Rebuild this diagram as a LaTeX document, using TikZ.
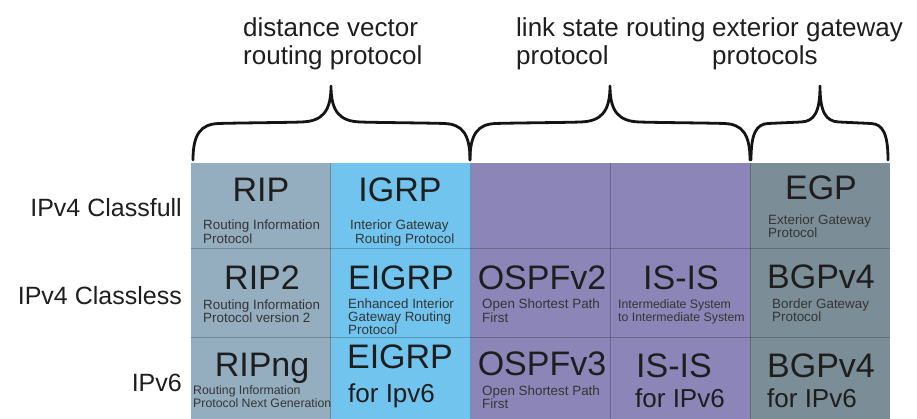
\documentclass[tikz,border=0pt]{standalone}
\usepackage{fontspec}
\setmainfont{Liberation Sans}

\definecolor{ripcol}{HTML}{94AEC0}
\definecolor{igrpcol}{HTML}{70C4EE}
\definecolor{lscol}{HTML}{8B85B8}
\definecolor{egpcol}{HTML}{7B8D96}
\definecolor{ink}{HTML}{1E1E1E}

\newcommand\protoBig{\fontsize{34}{38}\selectfont}
\newcommand\protoMid{\fontsize{26}{30}\selectfont}
\newcommand\protoSmall{\fontsize{13.4}{15}\selectfont}
\newcommand\protoTiny{\fontsize{12.3}{14}\selectfont}

% curly brace: left end, tip, right end, width of the end curves, width of the tip curves
\newcommand\protobrace[5]{%
  \draw[brace] (#1,160) .. controls (#1,134) and ({#1+0.3*#4},124) .. ({#1+#4},123.5)
    .. controls ({#1+#4+10},123) and ({#2-#5-10},122.5) .. ({#2-#5},122)
    .. controls ({#2-0.3*#5},121.5) and (#2,112) .. (#2,86)
    .. controls (#2,112) and ({#2+0.3*#5},121.5) .. ({#2+#5},122)
    .. controls ({#2+#5+10},122.5) and ({#3-#4-10},123) .. ({#3-#4},123.5)
    .. controls ({#3-0.3*#4},124) and (#3,134) .. (#3,160);}

\tikzset{
  cell/.style={rectangle, inner sep=0pt, outer sep=0pt, minimum width=139.8pt, anchor=north west},
  gridline/.style={draw=black, draw opacity=0.22, line width=1pt},
  proto/.style={font=\protoBig, text=ink, inner sep=0pt, anchor=base},
  sub/.style={font=\protoMid, text=ink, inner sep=0pt, anchor=base west},
  note/.style={font=\protoSmall, text=ink!90, inner sep=0pt, anchor=base west},
  tinynote/.style={font=\protoTiny, text=ink!90, inner sep=0pt, anchor=base west},
  rowlabel/.style={font=\fontsize{25}{30}\selectfont, text=ink, inner sep=0pt, anchor=base east},
  header/.style={font=\fontsize{26}{30}\selectfont, text=ink, inner sep=0pt, anchor=base west},
  brace/.style={line width=2.8pt, line cap=round, line join=round, draw=black!92}
}

\begin{document}
\begin{tikzpicture}[x=1pt, y=-1pt]
\useasboundingbox (0,0) rectangle (917,419);

% headings over the braces
\node[header] (dv1) at (243,37) {distance vector};
\node[header] (dv2) at (243,65) {routing protocol};
\node[header] (ls1) at (516,37) {link state routing};
\node[header] (ls2) at (516,65) {protocol};
\node[header] (eg1) at (712,37) {exterior gateway};
\node[header] (eg2) at (712,65) {protocols};

\protobrace{193}{331}{470}{26}{30}
\protobrace{470}{610}{750}{26}{30}
\protobrace{751}{820}{888}{17}{19}

% table cells: rows 1..3, columns 1..5
\foreach \r/\y/\h in {1/163/86, 2/249/88, 3/337/82}{
  \foreach \c/\x/\col in {1/191/ripcol, 2/331/igrpcol, 3/471/lscol, 4/610.5/lscol, 5/750/egpcol}{
    \node[cell, fill=\col, minimum height=\h pt] (c\r\c) at (\x,\y) {};
  }
}

% internal grid lines
\foreach \c in {1,2,3,4}{
  \draw[gridline] (c1\c.north east) -- (c3\c.south east);
}
\foreach \r in {1,2}{
  \draw[gridline] (c\r1.south west) -- (c\r5.south east);
}

% row labels
\node[rowlabel] (r1) at (182,217) {IPv4 Classfull};
\node[rowlabel] (r2) at (182,304) {IPv4 Classless};
\node[rowlabel] (r3) at (182,391) {IPv6};

% row 1
\node[proto] (rip) at (261,202) {RIP};
\node[note] (ripa) at (203,230) {Routing Information};
\node[note] (ripb) at (203,244) {Protocol};

\node[proto] (igrp) at (400,202) {IGRP};
\node[note] (igrpa) at (350,230) {Interior Gateway};
\node[note] (igrpb) at (355,244) {Routing Protocol};

\node[proto] (egp) at (821,200) {EGP};
\node[note] (egpa) at (768,225) {Exterior Gateway};
\node[note] (egpb) at (768,238) {Protocol};

% row 2
\node[proto] (rip2) at (262,290) {RIP2};
\node[note] (rip2a) at (203,309) {Routing Information};
\node[note] (rip2b) at (203,322) {Protocol version 2};

\node[proto] (eigrp) at (401,290) {EIGRP};
\node[note] (eigrpa) at (348,308) {Enhanced Interior};
\node[note] (eigrpb) at (348,321) {Gateway Routing};
\node[note] (eigrpc) at (348,334) {Protocol};

\node[proto] (ospf2) at (542,290) {OSPFv2};
\node[note] (ospf2a) at (482,308) {Open Shortest Path};
\node[note] (ospf2b) at (482,322) {First};

\node[proto] (isis) at (681,290) {IS-IS};
\node[tinynote] (isisa) at (618,308) {Intermediate System};
\node[tinynote] (isisb) at (618,321) {to Intermediate System};

\node[proto] (bgp) at (821,288) {BGPv4};
\node[note] (bgpa) at (772,308) {Border Gateway};
\node[note] (bgpb) at (772,321) {Protocol};

% row 3
\node[proto] (ripng) at (262,376) {RIPng};
\node[tinynote] (ripnga) at (193,394) {Routing Information};
\node[tinynote] (ripngb) at (193,407) {Protocol Next Generation};

\node[proto] (eigrp6) at (400,368) {EIGRP};
\node[sub] (eigrp6a) at (348,402) {for Ipv6};

\node[proto] (ospf3) at (542,375) {OSPFv3};
\node[note] (ospf3a) at (482,395) {Open Shortest Path};
\node[note] (ospf3b) at (482,408) {First};

\node[proto] (isis6) at (674,377) {IS-IS};
\node[sub, anchor=base] (isis6a) at (680,407) {for IPv6};

\node[proto] (bgp6) at (821,377) {BGPv4};
\node[sub] (bgp6a) at (767,407) {for IPv6};
\end{tikzpicture}
\end{document}
